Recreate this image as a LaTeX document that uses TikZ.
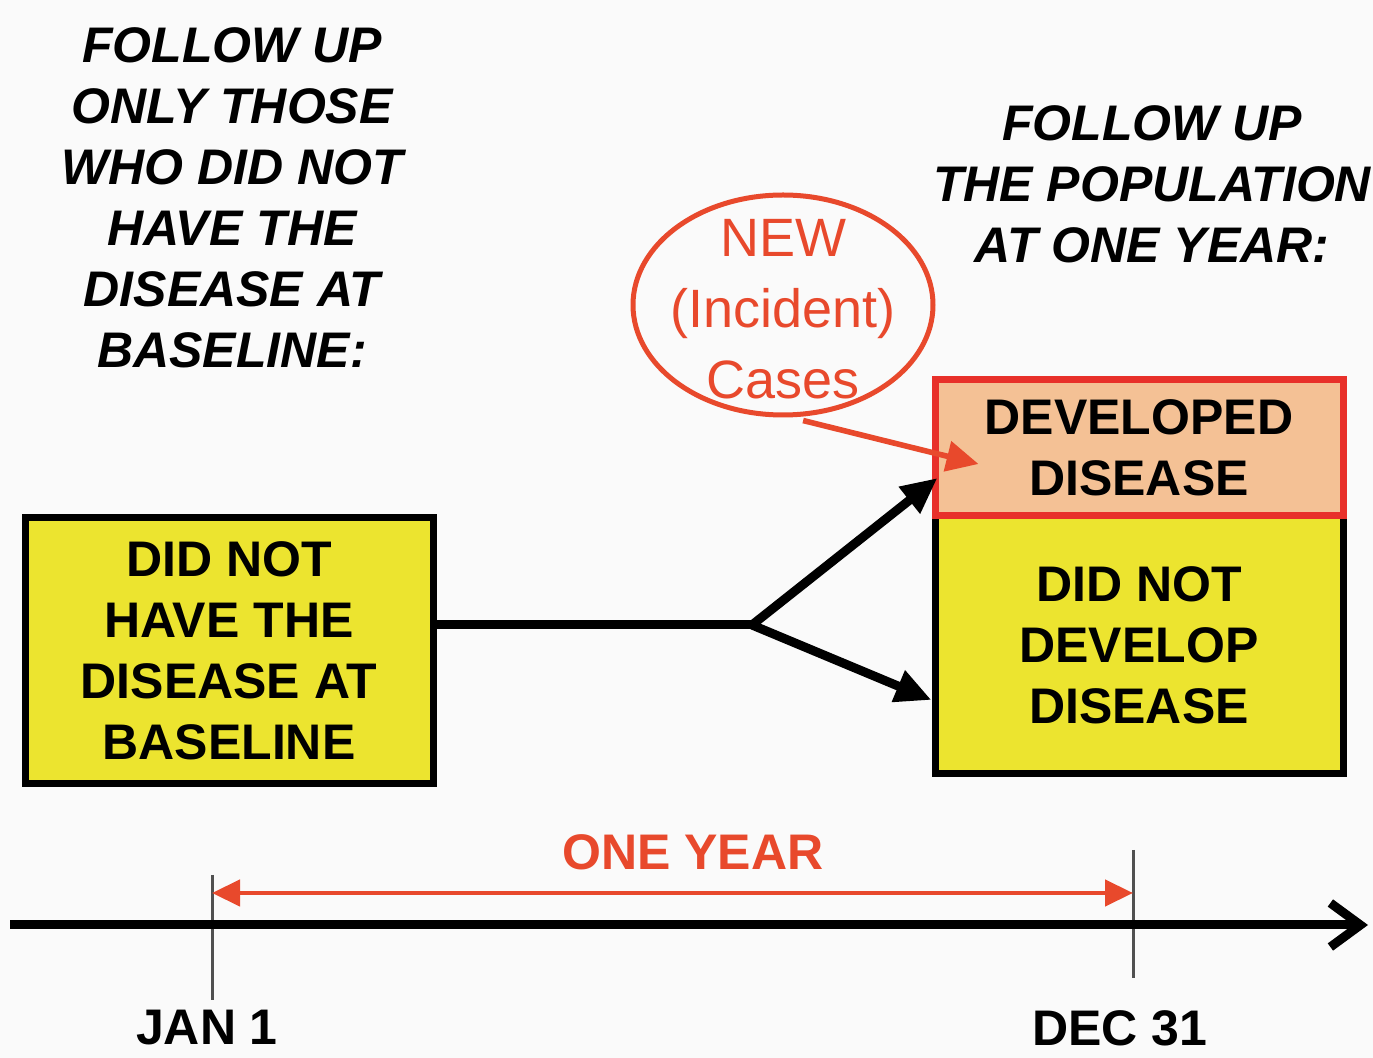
\documentclass[tikz,border=0pt]{standalone}
\usepackage{fontspec}
\setmainfont{Liberation Sans}
\usepackage{xcolor}
\usetikzlibrary{arrows.meta,positioning,calc,shapes.geometric}
\definecolor{paper}{HTML}{FAFAFA}
\definecolor{boxyellow}{HTML}{ECE42F}
\definecolor{peach}{HTML}{F4C195}
\definecolor{boxred}{HTML}{E8302A}
\definecolor{casered}{HTML}{E8492C}
\definecolor{tickgray}{HTML}{505050}

\begin{document}
\begin{tikzpicture}[
  x=0.5pt,y=-0.5pt,
  font=\bfseries\fontsize{25}{30.5}\selectfont,
  box/.style={draw,line width=3.5pt,fill=boxyellow,align=center,minimum width=204pt,inner sep=0pt},
  note/.style={align=center,font=\bfseries\itshape\fontsize{25}{30.5}\selectfont},
  flow/.style={line width=4.5pt},
  flowarr/.style={flow,-{Triangle[length=18pt,width=16pt]}},
  redarr/.style={draw=casered,line width=2.8pt,-{Triangle[length=16pt,width=15pt]},shorten <=-2pt},
  span/.style={draw=casered,line width=2.2pt,{Triangle[length=14pt,width=13pt]}-{Triangle[length=14pt,width=13pt]}},
  tick/.style={draw=tickgray,line width=1.5pt},
]
\fill[paper] (0,0) rectangle (1373,1058);
\useasboundingbox (0,0) rectangle (1373,1058);
\node[note] (followleft) at (232,198)
  {FOLLOW UP\\ONLY THOSE\\WHO DID NOT\\HAVE THE\\DISEASE AT\\BASELINE:};
\node[note] (followright) at (1152,184)
  {FOLLOW UP\\THE POPULATION\\AT ONE YEAR:};
\node[box,minimum height=133pt] (base) at (229,651)
  {DID NOT\\HAVE THE\\DISEASE AT\\BASELINE};
\node[box,minimum height=129pt] (nodev) at (1139,645)
  {DID NOT\\DEVELOP\\DISEASE};
\node[box,draw=boxred,fill=peach,minimum height=68pt] (dev) at (1139,448)
  {DEVELOPED\\DISEASE};
\node[ellipse,draw=casered,line width=2.5pt,minimum width=150pt,minimum height=110pt] (newcases) at (783,305) {};
\node[text=casered,align=center,font=\mdseries\fontsize{27}{35.5}\selectfont] (newtext) at ($(newcases)+(0,4)$) {NEW\\(Incident)\\Cases};
\coordinate (split) at (752,625);
\draw[flow] (base.east |- split) -- (split);
\draw[flowarr] (split) -- ($(dev.west)+(6,30)$);
\draw[flowarr] (split) -- ($(nodev.west)+(0,55)$);
\draw[redarr] ($(newcases.south)+(24,4)$) -- ($(dev.west)+(47,16)$);
\coordinate (jan) at (212,875);
\coordinate (dec) at (1133,850);
\coordinate (tstart) at (10,925);
\coordinate (tend) at (1368,925);
\draw[tick] (jan) -- ++(0,125);
\draw[tick] (dec) -- ++(0,128);
\draw[line width=4.5pt,-{Straight Barb[length=15pt,width=22pt,line width=4.5pt]}] (tstart) -- (tend);
\draw[span] (jan |- 0,893) -- (dec |- 0,893);
\node[text=casered] (oneyear) at (693,852) {ONE YEAR};
\node (janlabel) at (207,1028) {JAN 1};
\node (declabel) at (1120,1028) {DEC 31};
\end{tikzpicture}
\end{document}
